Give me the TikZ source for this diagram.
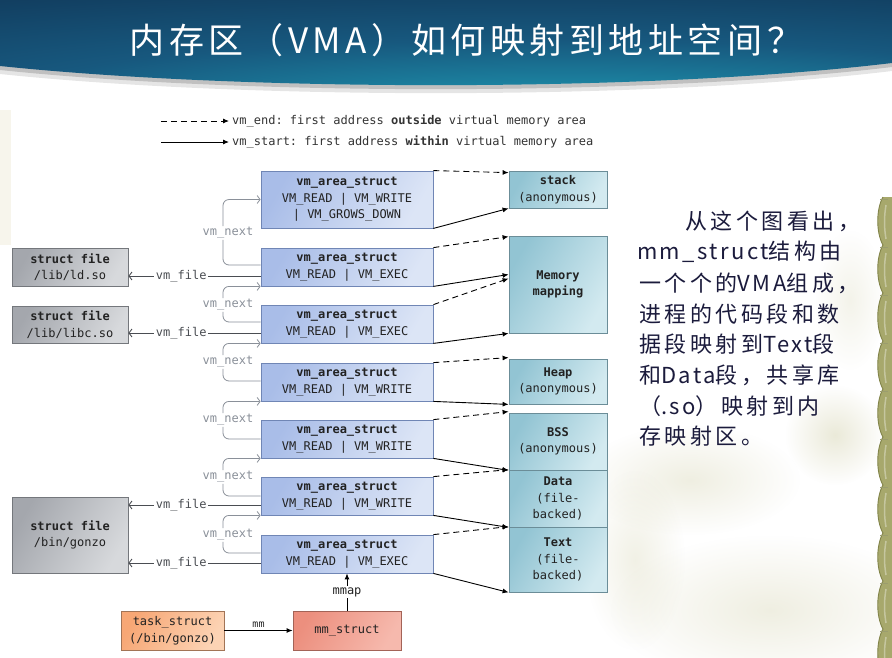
\documentclass[tikz,border=0pt]{standalone}
\usepackage{fontspec}
\setmonofont{DejaVu Sans Mono}
\newfontfamily\titlecjk[LetterSpace=13]{Noto Sans CJK SC}
\newfontfamily\bodycjk[LetterSpace=16]{Noto Sans CJK SC}
\newfontfamily\bodylat[LetterSpace=11]{Noto Sans CJK SC}
\usetikzlibrary{arrows.meta,calc,fadings}

\definecolor{bnNavy}{HTML}{0C2442}
\definecolor{bnMid}{HTML}{17587E}
\definecolor{bnTeal}{HTML}{1FA0B8}
\definecolor{vmTop}{HTML}{A9BDE8}
\definecolor{vmBot}{HTML}{DCE5F6}
\definecolor{vmLine}{HTML}{7086B5}
\definecolor{segTop}{HTML}{92C4D3}
\definecolor{segBot}{HTML}{D3EAF0}
\definecolor{segLine}{HTML}{6B8D98}
\definecolor{fileTop}{HTML}{A4A7AD}
\definecolor{fileBot}{HTML}{D7D9DC}
\definecolor{fileLine}{HTML}{74777C}
\definecolor{taskTop}{HTML}{F7A775}
\definecolor{taskBot}{HTML}{FCD3B4}
\definecolor{taskLine}{HTML}{A27456}
\definecolor{mmTop}{HTML}{EC8F7E}
\definecolor{mmBot}{HTML}{F6B9AD}
\definecolor{mmLine}{HTML}{A36357}
\definecolor{nextGray}{HTML}{8A9099}
\definecolor{fileGray}{HTML}{4A4D52}
\definecolor{inkText}{HTML}{222222}
\definecolor{legInk}{HTML}{333333}
\definecolor{bodyInk}{HTML}{1B1B3C}
\definecolor{bambooCol}{HTML}{A7A86C}
\definecolor{bambooDark}{HTML}{82844A}
\definecolor{mist}{HTML}{D2D0AA}
\definecolor{paper}{HTML}{F7F5EC}

% banner colouring: bright teal low in the middle, dark navy towards the edges
\pgfdeclareradialshading{bannershade}{\pgfpoint{8bp}{-38bp}}{%
  color(0bp)=(bnTeal); color(30bp)=(bnMid); color(75bp)=(bnNavy); color(100bp)=(bnNavy)}

% soft-edged blot for the faded foliage
\tikzfading[name=softblob, inner color=transparent!0, outer color=transparent!100]

\begin{document}
\begin{tikzpicture}[x=1pt,y=-1pt,
  mono/.style={font=\ttfamily\fontsize{12}{16.5}\selectfont},
  box/.style={mono, draw, line width=0.8pt, inner sep=0pt, align=center, text=inkText},
  vmbox/.style={box, draw=vmLine, top color=vmTop, bottom color=vmBot, shading angle=60,
                minimum width=172pt, minimum height=38pt},
  segbox/.style={box, draw=segLine, top color=segTop, bottom color=segBot, shading angle=60,
                minimum width=98pt},
  filebox/.style={box, draw=fileLine, top color=fileTop, bottom color=fileBot, shading angle=60,
                minimum width=116pt},
  taskbox/.style={box, draw=taskLine, top color=taskTop, bottom color=taskBot, shading angle=60,
                minimum width=103pt, minimum height=39pt},
  mmbox/.style={box, draw=mmLine, top color=mmTop, bottom color=mmBot, shading angle=60,
                minimum width=108pt, minimum height=39pt},
  endln/.style={line width=0.9pt, dash pattern=on 6pt off 4pt, -{Latex[length=6pt,width=5pt]}},
  startln/.style={line width=0.9pt, -{Latex[length=6pt,width=5pt]}},
  nextln/.style={nextGray, line width=0.8pt, rounded corners=6pt},
  nexttip/.style={-{Straight Barb[length=3pt,width=8pt]}},
  nextlbl/.style={mono, text=nextGray, inner sep=1pt},
  fileln/.style={fileGray, line width=0.9pt, -{Straight Barb[length=3pt,width=8pt]}},
  filelbl/.style={mono, text=fileGray, fill=white, inner sep=1.5pt},
  legtxt/.style={mono, text=legInk, anchor=west, inner sep=0pt},
  bodytxt/.style={anchor=west, inner sep=0pt, text=bodyInk,
                  font=\bodycjk\fontsize{22}{26}\selectfont},
  blot/.style={fill=mist, path fading=softblob},
]
\useasboundingbox (0,0) rectangle (892,657);
\fill[white] (0,0) rectangle (892,657);

% ---------- slide decoration ----------
\fill[paper] (0,110) rectangle (11,245);
\fill[blot, opacity=0.35] (690,480) ellipse (110 and 55);
\fill[blot, opacity=0.45] (835,435) ellipse (50 and 50);
\fill[blot, opacity=0.35] (770,610) ellipse (160 and 75);
\fill[blot, opacity=0.3] (635,560) ellipse (50 and 90);
\fill[blot, opacity=0.25] (850,300) ellipse (35 and 70);

% bamboo stem along the right edge
\fill[bambooCol] (892,197) -- (883,197)
  \foreach \y in {197,245,...,640} { .. controls (876,\y+12) and (876,\y+36) .. (883,\y+48) }
  -- (892,677) -- cycle;
\foreach \y in {197,245,...,640} {
  \draw[bambooDark, line width=0.9pt] (883,\y) .. controls (876,\y+12) and (876,\y+36) .. (883,\y+48);
  \draw[bambooDark!80, line width=0.6pt] (880,\y+2) -- (888,\y+2);
  \draw[white, opacity=0.35, line width=1.5pt] (886,\y+8) .. controls (884,\y+20) and (884,\y+30) .. (886,\y+42);
}

% title banner with its shadow
\fill[black, opacity=0.10] (0,0) -- (892,0) -- (892,71) .. controls (650,100) and (250,100) .. (0,74) -- cycle;
\fill[black, opacity=0.16] (0,0) -- (892,0) -- (892,67) .. controls (650,96) and (250,96) .. (0,70) -- cycle;
\shade[shading=bannershade] (0,0) -- (892,0) -- (892,63) .. controls (650,92) and (250,92) .. (0,66) -- cycle;
\node[font=\titlecjk\fontsize{35}{40}\selectfont, text=white, inner sep=0pt] (title) at (466,40)
  {内存区（VMA）如何映射到地址空间？};

% ---------- legend ----------
\coordinate (lgA1) at (161,121);
\coordinate (lgA2) at (229,121);
\coordinate (lgB1) at (161,142);
\coordinate (lgB2) at (229,142);
\draw[endln] (lgA1) -- (lgA2);
\draw[startln] (lgB1) -- (lgB2);
\node[legtxt] (legEnd) at (232,121) {vm\_end: first address \textbf{outside} virtual memory area};
\node[legtxt] (legStart) at (232,142) {vm\_start: first address \textbf{within} virtual memory area};

% ---------- virtual memory areas ----------
\node[vmbox, minimum height=57pt] (vm1) at (347,199.5)
  {\textbf{vm\_area\_struct}\\VM\_READ | VM\_WRITE\\| VM\_GROWS\_DOWN};
\node[vmbox] (vm2) at (347,267) {\textbf{vm\_area\_struct}\\VM\_READ | VM\_EXEC};
\node[vmbox] (vm3) at (347,324) {\textbf{vm\_area\_struct}\\VM\_READ | VM\_EXEC};
\node[vmbox] (vm4) at (347,382) {\textbf{vm\_area\_struct}\\VM\_READ | VM\_WRITE};
\node[vmbox] (vm5) at (347,439) {\textbf{vm\_area\_struct}\\VM\_READ | VM\_WRITE};
\node[vmbox] (vm6) at (347,496) {\textbf{vm\_area\_struct}\\VM\_READ | VM\_WRITE};
\node[vmbox] (vm7) at (347,554) {\textbf{vm\_area\_struct}\\VM\_READ | VM\_EXEC};

% ---------- address space segments ----------
\node[segbox, minimum height=37pt] (stack) at (558,189.5) {\textbf{stack}\\(anonymous)};
\node[segbox, minimum height=97pt] (mmap) at (558,284.5) {\textbf{Memory}\\\textbf{mapping}};
\node[segbox, minimum height=45pt] (heap) at (558,381.5) {\textbf{Heap}\\(anonymous)};
\node[segbox, minimum height=57pt] (bss) at (558,441.5) {\textbf{BSS}\\(anonymous)};
\node[segbox, minimum height=57pt] (data) at (558,498.5) {\textbf{Data}\\(file-\\backed)};
\node[segbox, minimum height=65pt] (text) at (558,559.5) {\textbf{Text}\\(file-\\backed)};

% ---------- files ----------
\node[filebox, minimum height=38pt] (ldso) at (70,267) {\textbf{struct file}\\/lib/ld.so};
\node[filebox, minimum height=37pt] (libc) at (70,324.5) {\textbf{struct file}\\/lib/libc.so};
\node[filebox, minimum height=76pt] (gonzo) at (70,535) {\textbf{struct file}\\/bin/gonzo};

% ---------- process ----------
\node[taskbox] (task) at (172.5,630.5) {task\_struct\\(/bin/gonzo)};
\node[mmbox] (mm) at (347,630.5) {mm\_struct};

% ---------- vm_start / vm_end ----------
\draw[endln]   (vm1.north east) -- ([yshift=-2pt]stack.north west);
\draw[startln] (vm1.south east) -- (stack.south west);
\draw[endln]   (vm2.north east) -- ([yshift=-1pt]mmap.north west);
\draw[startln] (vm2.south east) -- ([yshift=10pt]mmap.west);
\draw[endln]   (vm3.north east) -- ([yshift=6pt]mmap.west);
\draw[startln] (vm3.south east) -- (mmap.south west);
\draw[endln]   (vm4.north east) -- ([yshift=1pt]heap.north west);
\draw[startln] (vm4.south east) -- (heap.south west);
\draw[endln]   (vm5.north east) -- ([yshift=1pt]bss.north west);
\draw[startln] (vm5.south east) -- (bss.south west);
\draw[endln]   (vm6.north east) -- (data.north west);
\draw[startln] (vm6.south east) -- (data.south west);
\draw[endln]   (vm7.north east) -- (text.north west);
\draw[startln] (vm7.south east) -- (text.south west);

% ---------- vm_next chain ----------
\node[nextlbl] (nx1) at (228,233) {vm\_next};
\node[nextlbl] (nx2) at (228,305) {vm\_next};
\node[nextlbl] (nx3) at (228,362) {vm\_next};
\node[nextlbl] (nx4) at (228,420) {vm\_next};
\node[nextlbl] (nx5) at (228,477) {vm\_next};
\node[nextlbl] (nx6) at (228,535) {vm\_next};

\draw[nextln] ([yshift=2pt]vm2.west) -| ([xshift=-5pt]nx1.south);
\draw[nextln, nexttip] ([xshift=-5pt]nx1.north) |- (vm1.west);
\draw[nextln] ([yshift=2pt]vm3.west) -| ([xshift=-5pt]nx2.south);
\draw[nextln, nexttip] ([xshift=-5pt]nx2.north) |- (vm2.south west);
\draw[nextln] ([yshift=1pt]vm4.west) -| ([xshift=-5pt]nx3.south);
\draw[nextln, nexttip] ([xshift=-5pt]nx3.north) |- (vm3.south west);
\draw[nextln] (vm5.west) -| ([xshift=-5pt]nx4.south);
\draw[nextln, nexttip] ([xshift=-5pt]nx4.north) |- (vm4.south west);
\draw[nextln] (vm6.west) -| ([xshift=-5pt]nx5.south);
\draw[nextln, nexttip] ([xshift=-5pt]nx5.north) |- (vm5.south west);
\draw[nextln] ([yshift=1pt]vm7.west) -| ([xshift=-5pt]nx6.south);
\draw[nextln, nexttip] ([xshift=-5pt]nx6.north) |- (vm6.south west);

% ---------- vm_file ----------
\draw[fileln] ([yshift=-9pt]vm2.west) -- ([yshift=-9pt]vm2.west -| ldso.east)
  node[filelbl, pos=0.6] {vm\_file};
\draw[fileln] ([yshift=-9pt]vm3.west) -- ([yshift=-9pt]vm3.west -| libc.east)
  node[filelbl, pos=0.6] {vm\_file};
\draw[fileln] ([yshift=-9pt]vm6.west) -- ([yshift=-9pt]vm6.west -| gonzo.east)
  node[filelbl, pos=0.6] {vm\_file};
\draw[fileln] ([yshift=-9pt]vm7.west) -- ([yshift=-9pt]vm7.west -| gonzo.east)
  node[filelbl, pos=0.6] {vm\_file};

% ---------- mm / mmap ----------
\draw[startln] (task.east) -- (mm.west)
  node[midway, above=3pt, font=\ttfamily\fontsize{10}{12}\selectfont, text=inkText, inner sep=0pt] {mm};
\draw[startln] (mm.north) -- (vm7.south)
  node[midway, mono, fill=white, text=inkText, inner sep=1.5pt] {mmap};

% ---------- explanation ----------
\node[bodytxt] (p1) at (685,221) {从这个图看出，};
\node[bodytxt] (p2) at (637,252) {{\bodylat mm\_struct}结构由};
\node[bodytxt] (p3) at (639,283) {一个个的{\bodylat VMA}组成，};
\node[bodytxt] (p4) at (639,314) {进程的代码段和数};
\node[bodytxt] (p5) at (639,344) {据段映射到{\bodylat Text}段};
\node[bodytxt] (p6) at (639,375) {和{\bodylat Data}段，共享库};
\node[bodytxt] (p7) at (639,406) {（{\bodylat .so}）映射到内};
\node[bodytxt] (p8) at (639,436) {存映射区。};
\end{tikzpicture}
\end{document}
